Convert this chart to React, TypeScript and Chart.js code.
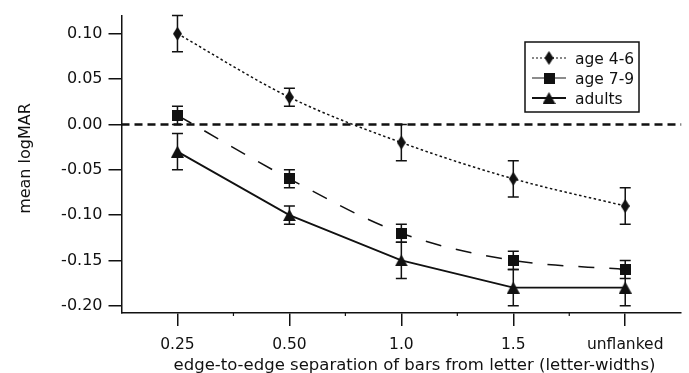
import React, { useEffect, useRef } from "react";
import { Chart, registerables } from "chart.js";
Chart.register(...registerables);

const categories = ["0.25", "0.50", "1.0", "1.5", "unflanked"];
const xPositions = [1, 2, 3, 4, 5];
const age46 = [0.1, 0.03, -0.02, -0.06, -0.09];
const age46Err = [0.02, 0.01, 0.02, 0.02, 0.02];
const age79 = [0.01, -0.06, -0.12, -0.15, -0.16];
const age79Err = [0.01, 0.01, 0.01, 0.01, 0.01];
const adults = [-0.03, -0.1, -0.15, -0.18, -0.18];
const adultsErr = [0.02, 0.01, 0.02, 0.02, 0.02];
const yTicks = [-0.2, -0.15, -0.1, -0.05, 0.0, 0.05, 0.1];
const xTickValues = [1, 1.5, 2, 2.5, 3, 3.5, 4, 4.5, 5];
const seriesLabels = ["age 4-6", "age 7-9", "adults"];
const xTitle = "edge-to-edge separation of bars from letter (letter-widths)";
const yTitle = "mean logMAR";

const FONT = "'DejaVu Sans', Verdana, sans-serif";
const INK = "#111";

function makeMarker(kind: string): HTMLCanvasElement {
  const c = document.createElement("canvas");
  let w = 11, h = 11;
  if (kind === "diamond") { w = 9; h = 14; }
  if (kind === "triangle") { w = 13; h = 12; }
  c.width = w; c.height = h;
  const g = c.getContext("2d")!;
  g.fillStyle = INK;
  g.beginPath();
  if (kind === "diamond") {
    g.moveTo(w / 2, 0); g.lineTo(w, h / 2); g.lineTo(w / 2, h); g.lineTo(0, h / 2);
  } else if (kind === "triangle") {
    g.moveTo(w / 2, 0); g.lineTo(w, h); g.lineTo(0, h);
  } else {
    g.rect(0, 0, w, h);
  }
  g.closePath();
  g.fill();
  return c;
}

export default function App() {
  const ref = useRef<HTMLCanvasElement>(null);
  useEffect(() => {
    document.body.style.margin = "0";
    const markers = [makeMarker("diamond"), makeMarker("square"), makeMarker("triangle")];
    const errs = [age46Err, age79Err, adultsErr];
    const dashes = [[2.5, 2.5], [16, 15], []];

    const errorBars = {
      id: "errorBars",
      afterDatasetsDraw(chart: any) {
        const { ctx, scales } = chart;
        ctx.save();
        ctx.strokeStyle = INK;
        ctx.lineWidth = 1.5;
        ctx.setLineDash([]);
        chart.data.datasets.forEach((ds: any, i: number) => {
          ds.data.forEach((p: any, j: number) => {
            const x = scales.x.getPixelForValue(p.x);
            const y1 = scales.y.getPixelForValue(p.y + errs[i][j]);
            const y2 = scales.y.getPixelForValue(p.y - errs[i][j]);
            ctx.beginPath();
            ctx.moveTo(x, y1); ctx.lineTo(x, y2);
            ctx.moveTo(x - 5.5, y1); ctx.lineTo(x + 5.5, y1);
            ctx.moveTo(x - 5.5, y2); ctx.lineTo(x + 5.5, y2);
            ctx.stroke();
          });
        });
        ctx.restore();
      },
    };

    const zeroLine = {
      id: "zeroLine",
      beforeDatasetsDraw(chart: any) {
        const { ctx, scales, chartArea } = chart;
        const y = scales.y.getPixelForValue(0);
        ctx.save();
        ctx.strokeStyle = INK;
        ctx.lineWidth = 2.5;
        ctx.setLineDash([8, 5]);
        ctx.beginPath();
        ctx.moveTo(chartArea.left, y);
        ctx.lineTo(chartArea.right, y);
        ctx.stroke();
        ctx.restore();
      },
    };

    const extras = {
      id: "extras",
      afterDraw(chart: any) {
        const { ctx, scales, chartArea } = chart;
        ctx.save();
        // minor x ticks
        ctx.strokeStyle = INK;
        ctx.lineWidth = 1.2;
        xTickValues.filter((v) => !Number.isInteger(v)).forEach((v) => {
          const x = scales.x.getPixelForValue(v);
          ctx.beginPath();
          ctx.moveTo(x, chartArea.bottom);
          ctx.lineTo(x, chartArea.bottom + 3);
          ctx.stroke();
        });
        // axis titles
        ctx.fillStyle = INK;
        ctx.font = `16.5px ${FONT}`;
        ctx.textAlign = "center";
        ctx.textBaseline = "alphabetic";
        ctx.fillText(xTitle, 414.5, 370);
        ctx.save();
        ctx.translate(30, 158.5);
        ctx.rotate(-Math.PI / 2);
        ctx.font = `16px ${FONT}`;
        ctx.fillText(yTitle, 0, 0);
        ctx.restore();
        // legend
        ctx.strokeStyle = INK;
        ctx.lineWidth = 1.5;
        ctx.setLineDash([]);
        ctx.strokeRect(525, 42, 114, 70);
        const rows = [58, 78, 98];
        const lineColors = [INK, "#666", INK];
        const lineWidths = [1, 1.5, 1.8];
        const legDash = [[2, 2], [], []];
        seriesLabels.forEach((lab, i) => {
          const y = rows[i];
          ctx.strokeStyle = lineColors[i];
          ctx.lineWidth = lineWidths[i];
          ctx.setLineDash(legDash[i]);
          ctx.beginPath();
          ctx.moveTo(532, y); ctx.lineTo(566, y);
          ctx.stroke();
          const m = markers[i];
          ctx.drawImage(m, 549 - m.width / 2, y - m.height / 2);
          ctx.fillStyle = INK;
          ctx.font = `15.5px ${FONT}`;
          ctx.textBaseline = "alphabetic";
          ctx.textAlign = "left";
          ctx.fillText(lab, 575, y + 5.5);
        });
        ctx.restore();
      },
    };

    const series = [age46, age79, adults];
    const datasets = series.map((vals, i) => ({
      label: seriesLabels[i],
      data: vals.map((v, j) => ({ x: xPositions[j], y: v })),
      borderColor: INK,
      backgroundColor: INK,
      borderWidth: i === 2 ? 1.8 : 1.5,
      borderDash: dashes[i],
      tension: i === 2 ? 0 : 0.4,
      cubicInterpolationMode: i === 2 ? "default" : "monotone",
      pointStyle: markers[i],
      pointRadius: 6,
      fill: false,
    }));

    const chart = new Chart(ref.current!, {
      type: "line",
      data: { datasets },
      options: {
        responsive: false,
        animation: false,
        layout: { padding: { top: 15, right: 5, left: 0, bottom: 0 } },
        plugins: { legend: { display: false }, tooltip: { enabled: false } },
        scales: {
          x: {
            type: "linear",
            min: 0.5,
            max: 5.5,
            afterBuildTicks: (s: any) => { s.ticks = xTickValues.map((v) => ({ value: v })); },
            afterFit: (s: any) => { s.height = 60; },
            ticks: {
              autoSkip: false,
              maxRotation: 0,
              padding: 10,
              color: INK,
              font: { family: FONT, size: 15.5 },
              callback: (v: any) => (Number.isInteger(v) ? categories[v - 1] : ""),
            },
            grid: {
              display: true,
              drawOnChartArea: false,
              tickLength: 13,
              lineWidth: 1.5,
              tickColor: (ctx: any) => (ctx.tick && Number.isInteger(ctx.tick.value) ? INK : "rgba(0,0,0,0)"),
            },
            border: { display: true, color: INK, width: 1.5 },
          },
          y: {
            type: "linear",
            min: -0.208,
            max: 0.12,
            afterBuildTicks: (s: any) => { s.ticks = yTicks.map((v) => ({ value: v })); },
            afterFit: (s: any) => { s.width = 121.5; },
            ticks: {
              padding: 6,
              color: INK,
              font: { family: FONT, size: 16 },
              callback: (v: any) => Number(v).toFixed(2),
            },
            grid: {
              display: true,
              drawOnChartArea: false,
              tickLength: 13,
              lineWidth: 1.5,
              tickColor: INK,
            },
            border: { display: true, color: INK, width: 1.5 },
          },
        },
      },
      plugins: [zeroLine, errorBars, extras],
    } as any);
    return () => chart.destroy();
  }, []);
  return (
    <div style={{ width: 689, height: 373 }}>
      <canvas ref={ref} width={689} height={373} style={{ display: "block" }} />
    </div>
  );
}
